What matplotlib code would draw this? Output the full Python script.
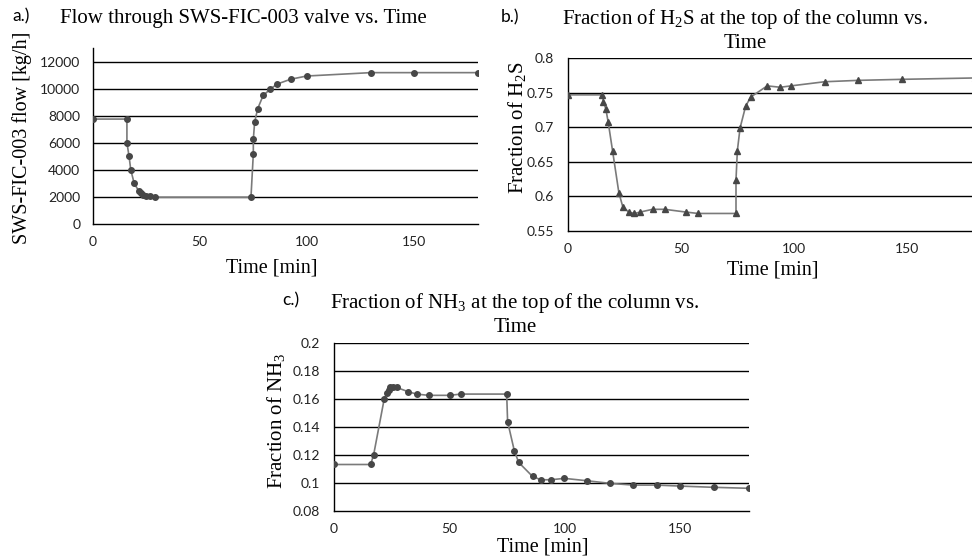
import matplotlib
matplotlib.use('Agg')
import matplotlib.pyplot as plt

plt.rcParams['font.family'] = ['Lato', 'DejaVu Sans']
plt.rcParams['mathtext.fontset'] = 'custom'
plt.rcParams['mathtext.rm'] = 'Liberation Serif'

# a.) flow through valve
t_flow = [0, 16, 16, 17, 17.8, 19.4, 21.5, 22.6, 23.7, 24.9, 26.8, 29.2,
          74, 75.1, 75.1, 75.7, 77.1, 79.7, 83, 86.1, 92.5, 100, 130, 150, 180]
flow = [7750, 7750, 6000, 5000, 4000, 3000, 2450, 2300, 2150, 2080, 2050, 1980,
        1980, 5200, 6250, 7500, 8500, 9500, 9950, 10330, 10690, 10930, 11180, 11180, 11180]

# b.) H2S fraction
t_h2s = [0, 15.2, 15.7, 16.7, 17.8, 19.7, 22.5, 24.2, 26.8, 29.4, 31.9, 37.4, 42.8,
         52.2, 57.5, 74.3, 74.3, 74.9, 76.1, 78.6, 80.9, 88.1, 93.9, 98.6, 113.5,
         128.3, 147.8, 180]
h2s = [0.747, 0.747, 0.737, 0.727, 0.707, 0.666, 0.605, 0.585, 0.577, 0.575, 0.577,
       0.581, 0.581, 0.577, 0.575, 0.575, 0.624, 0.666, 0.699, 0.731, 0.744, 0.760,
       0.758, 0.760, 0.766, 0.768, 0.7695, 0.7715]

# c.) NH3 fraction
t_nh3 = [0, 15.9, 17.2, 21.8, 23, 23.7, 24.4, 25.4, 27.2, 32.2, 35.8, 41, 50.3, 54.9,
         74.9, 75.3, 78.2, 80.1, 86.1, 89.7, 94.1, 99.9, 109.7, 119.9, 129.8, 139.9,
         149.9, 164.7, 179.9]
nh3 = [0.113, 0.113, 0.120, 0.160, 0.164, 0.166, 0.168, 0.168, 0.168, 0.165, 0.1633,
       0.1624, 0.1624, 0.1633, 0.1633, 0.1436, 0.1229, 0.1145, 0.1045, 0.1021, 0.1021,
       0.1031, 0.1014, 0.0995, 0.0983, 0.0983, 0.0976, 0.0967, 0.096]

W, H = 972, 560
fig = plt.figure(figsize=(W / 100, H / 100), dpi=100)


def px_axes(left, right, top, bottom):
    return fig.add_axes([left / W, 1 - bottom / H, (right - left) / W, (bottom - top) / H])


def style(ax, yticks, grid_vals, ypad):
    for s in ['top', 'right']:
        ax.spines[s].set_visible(False)
    for s in ['left', 'bottom']:
        ax.spines[s].set_color('black')
        ax.spines[s].set_linewidth(1.0)
    ax.set_xlim(0, 180)
    ax.set_xticks([0, 50, 100, 150])
    ax.set_yticks(yticks)
    ax.tick_params(length=0, labelsize=10, colors='#222222')
    ax.tick_params(axis='x', pad=9)
    ax.tick_params(axis='y', pad=ypad)
    for g in grid_vals:
        ax.axhline(g, color='black', lw=1.0, zorder=1)


line_kw = dict(color='#7a7a7a', lw=1.2, markerfacecolor='#474747',
               markeredgecolor='#474747', zorder=3)

serif = 'Liberation Serif'

# panel a
ax1 = px_axes(92.7, 477.7, 48, 224)
ax1.plot(t_flow, flow, marker='o', markersize=4, **line_kw)
ax1.set_ylim(0, 13000)
style(ax1, [0, 2000, 4000, 6000, 8000, 10000, 12000],
      [2000, 4000, 6000, 8000, 10000, 12000], 9)
fig.text(21 / W, 1 - 16 / H, 'a.)', fontsize=12.5, ha='center', va='center')
fig.text(243 / W, 1 - 18 / H, 'Flow through SWS-FIC-003 valve vs. Time',
         fontsize=15, family=serif, ha='center', va='center')
fig.text(22 / W, 1 - 138 / H, 'SWS-FIC-003 flow [kg/h]', fontsize=14.5,
         family=serif, rotation=90, ha='center', va='center')
fig.text(272 / W, 1 - 268 / H, 'Time [min]', fontsize=14.5, family=serif,
         ha='center', va='center')

# panel b
ax2 = px_axes(568, 975, 58.3, 230.7)
ax2.plot(t_h2s, h2s, marker='^', markersize=4.5, **line_kw)
ax2.set_ylim(0.55, 0.8)
style(ax2, [0.55, 0.6, 0.65, 0.7, 0.75, 0.8], [0.6, 0.65, 0.7, 0.75, 0.8], 10)
ax2.set_yticklabels(['0.55', '0.6', '0.65', '0.7', '0.75', '0.8'])
fig.text(510 / W, 1 - 17 / H, 'b.)', fontsize=12.5, ha='center', va='center')
fig.text(745 / W, 1 - 7 / H,
         'Fraction of H$_\\mathregular{2}$S at the top of the column vs.\nTime',
         fontsize=15, family=serif, ha='center', va='top', linespacing=1.2)
fig.text(518 / W, 1 - 128 / H, 'Fraction of H$_\\mathregular{2}$S', fontsize=15,
         family=serif, rotation=90, ha='center', va='center')
fig.text(773 / W, 1 - 270 / H, 'Time [min]', fontsize=14.5, family=serif,
         ha='center', va='center')

# panel c
ax3 = px_axes(334, 749, 342.7, 510.7)
ax3.plot(t_nh3, nh3, marker='o', markersize=4, **line_kw)
ax3.set_ylim(0.08, 0.2)
style(ax3, [0.08, 0.1, 0.12, 0.14, 0.16, 0.18, 0.2], [0.1, 0.12, 0.14, 0.16, 0.18, 0.2], 10)
ax3.set_yticklabels(['0.08', '0.1', '0.12', '0.14', '0.16', '0.18', '0.2'])
fig.text(291 / W, 1 - 300 / H, 'c.)', fontsize=12.5, ha='center', va='center')
fig.text(515 / W, 1 - 291 / H,
         'Fraction of NH$_\\mathregular{3}$ at the top of the column vs.\nTime',
         fontsize=15, family=serif, ha='center', va='top', linespacing=1.2)
fig.text(277 / W, 1 - 421 / H, 'Fraction of NH$_\\mathregular{3}$', fontsize=15,
         family=serif, rotation=90, ha='center', va='center')
fig.text(543 / W, 1 - 547 / H, 'Time [min]', fontsize=14.5, family=serif,
         ha='center', va='center')

fig.savefig('out.png', dpi=100)
